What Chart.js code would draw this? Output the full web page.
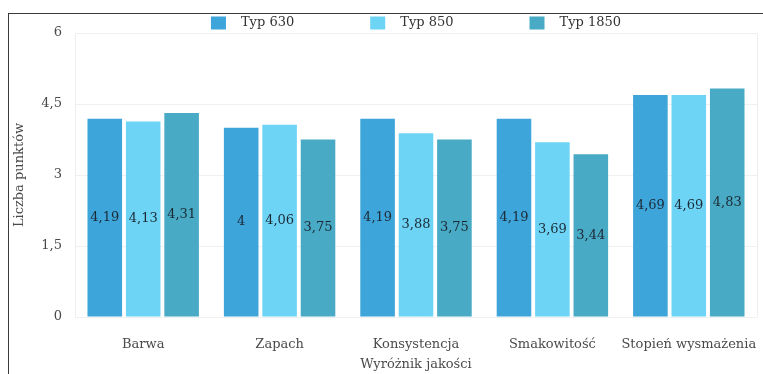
<!DOCTYPE html>
<html>
<head>
<meta charset="utf-8">
<script src="https://cdn.jsdelivr.net/npm/chart.js@4/dist/chart.umd.min.js"></script>
<style>
  html, body { margin: 0; padding: 0; background: #fff; }
  #wrap { position: relative; width: 763px; height: 374px; overflow: hidden; }
  #frame { position: absolute; left: 8px; top: 13px; right: -2px; bottom: -2px;
           border-top: 1.5px solid #3a3a3a; border-left: 1.5px solid #3a3a3a; pointer-events: none; }
  canvas { position: absolute; left: 0; top: 0; }
</style>
</head>
<body>
<div id="wrap">
  <canvas id="chart" width="763" height="374"></canvas>
  <div id="frame"></div>
</div>
<script>
// Quality attributes scored for three product types
const categories = ['Barwa', 'Zapach', 'Konsystencja', 'Smakowitość', 'Stopień wysmażenia'];
const seriesNames = ['Typ 630', 'Typ 850', 'Typ 1850'];
const typ630 = [4.19, 4.00, 4.19, 4.19, 4.69];
const typ850 = [4.13, 4.06, 3.88, 3.69, 4.69];
const typ1850 = [4.31, 3.75, 3.75, 3.44, 4.83];
const yTicks = [0, 1.5, 3, 4.5, 6];
const colors = ['#3ea5da', '#6ed4f6', '#48aac4'];

const serif = "'DejaVu Serif', 'Liberation Serif', serif";
const fmt = v => String(v).replace('.', ',');

// Writes each bar's value in the middle of the bar, and draws the legend row
const decorations = {
  id: 'decorations',
  afterDatasetsDraw(chart) {
    const ctx = chart.ctx;
    const area = chart.chartArea;
    ctx.save();

    // faint right edge of the plot area
    ctx.strokeStyle = '#eeeeee';
    ctx.lineWidth = 1;
    ctx.beginPath();
    ctx.moveTo(Math.round(area.right) + 0.5, area.top);
    ctx.lineTo(Math.round(area.right) + 0.5, area.bottom);
    ctx.stroke();

    ctx.font = '13px ' + serif;
    ctx.fillStyle = '#1c2a36';
    ctx.textAlign = 'center';
    ctx.textBaseline = 'middle';
    chart.data.datasets.forEach((ds, i) => {
      chart.getDatasetMeta(i).data.forEach((bar, j) => {
        ctx.fillText(fmt(ds.data[j]), bar.x, (bar.y + bar.base) / 2);
      });
    });

    // legend: colour box, gap, name; items spaced evenly, centred over the plot
    const box = 15, gap = 15, spacing = 76, boxH = 13, cy = 23;
    const items = chart.data.datasets.map(ds => ({
      text: ds.label, color: ds.backgroundColor, w: ctx.measureText(ds.label).width
    }));
    const total = items.reduce((s, it) => s + box + gap + it.w, 0) + spacing * (items.length - 1);
    let x = (area.left + area.right) / 2 - total / 2;
    ctx.textAlign = 'left';
    items.forEach(it => {
      ctx.fillStyle = it.color;
      ctx.fillRect(x, cy - boxH / 2, box, boxH);
      ctx.fillStyle = '#333';
      ctx.fillText(it.text, x + box + gap, cy);
      x += box + gap + it.w + spacing;
    });
    ctx.restore();
  }
};

new Chart(document.getElementById('chart'), {
  type: 'bar',
  data: {
    labels: categories,
    datasets: [typ630, typ850, typ1850].map((d, i) => ({
      label: seriesNames[i],
      data: d,
      backgroundColor: colors[i],
      borderWidth: 0,
      categoryPercentage: 0.845,
      barPercentage: 0.9
    }))
  },
  options: {
    responsive: false,
    animation: false,
    layout: { padding: { left: 8, right: 6, top: 33, bottom: 0 } },
    plugins: {
      legend: { display: false },
      tooltip: { enabled: false }
    },
    scales: {
      x: {
        grid: { display: false },
        border: { display: false },
        ticks: { color: '#4a4a4a', padding: 12, maxRotation: 0, minRotation: 0, autoSkip: false,
                 font: { family: serif, size: 13 } },
        title: { display: true, text: 'Wyróżnik jakości', color: '#4a4a4a',
                 padding: { top: 4, bottom: 2 }, font: { family: serif, size: 13 } },
        afterFit(s) { s.height = 57; s.paddingLeft = 0; s.paddingRight = 0; }
      },
      y: {
        min: 0, max: 6,
        afterBuildTicks(s) { s.ticks = yTicks.map(v => ({ value: v })); },
        grid: { color: '#f0f0f0', drawTicks: false },
        border: { color: '#eeeeee' },
        ticks: { color: '#4a4a4a', padding: 13, font: { family: serif, size: 13 },
                 callback: v => fmt(v) },
        title: { display: true, text: 'Liczba punktów', color: '#4a4a4a',
                 padding: { top: 4, bottom: 4 }, font: { family: serif, size: 13 } },
        afterFit(s) { s.width = 67; s.paddingTop = 0; s.paddingBottom = 0; }
      }
    }
  },
  plugins: [decorations]
});
</script>
</body>
</html>
